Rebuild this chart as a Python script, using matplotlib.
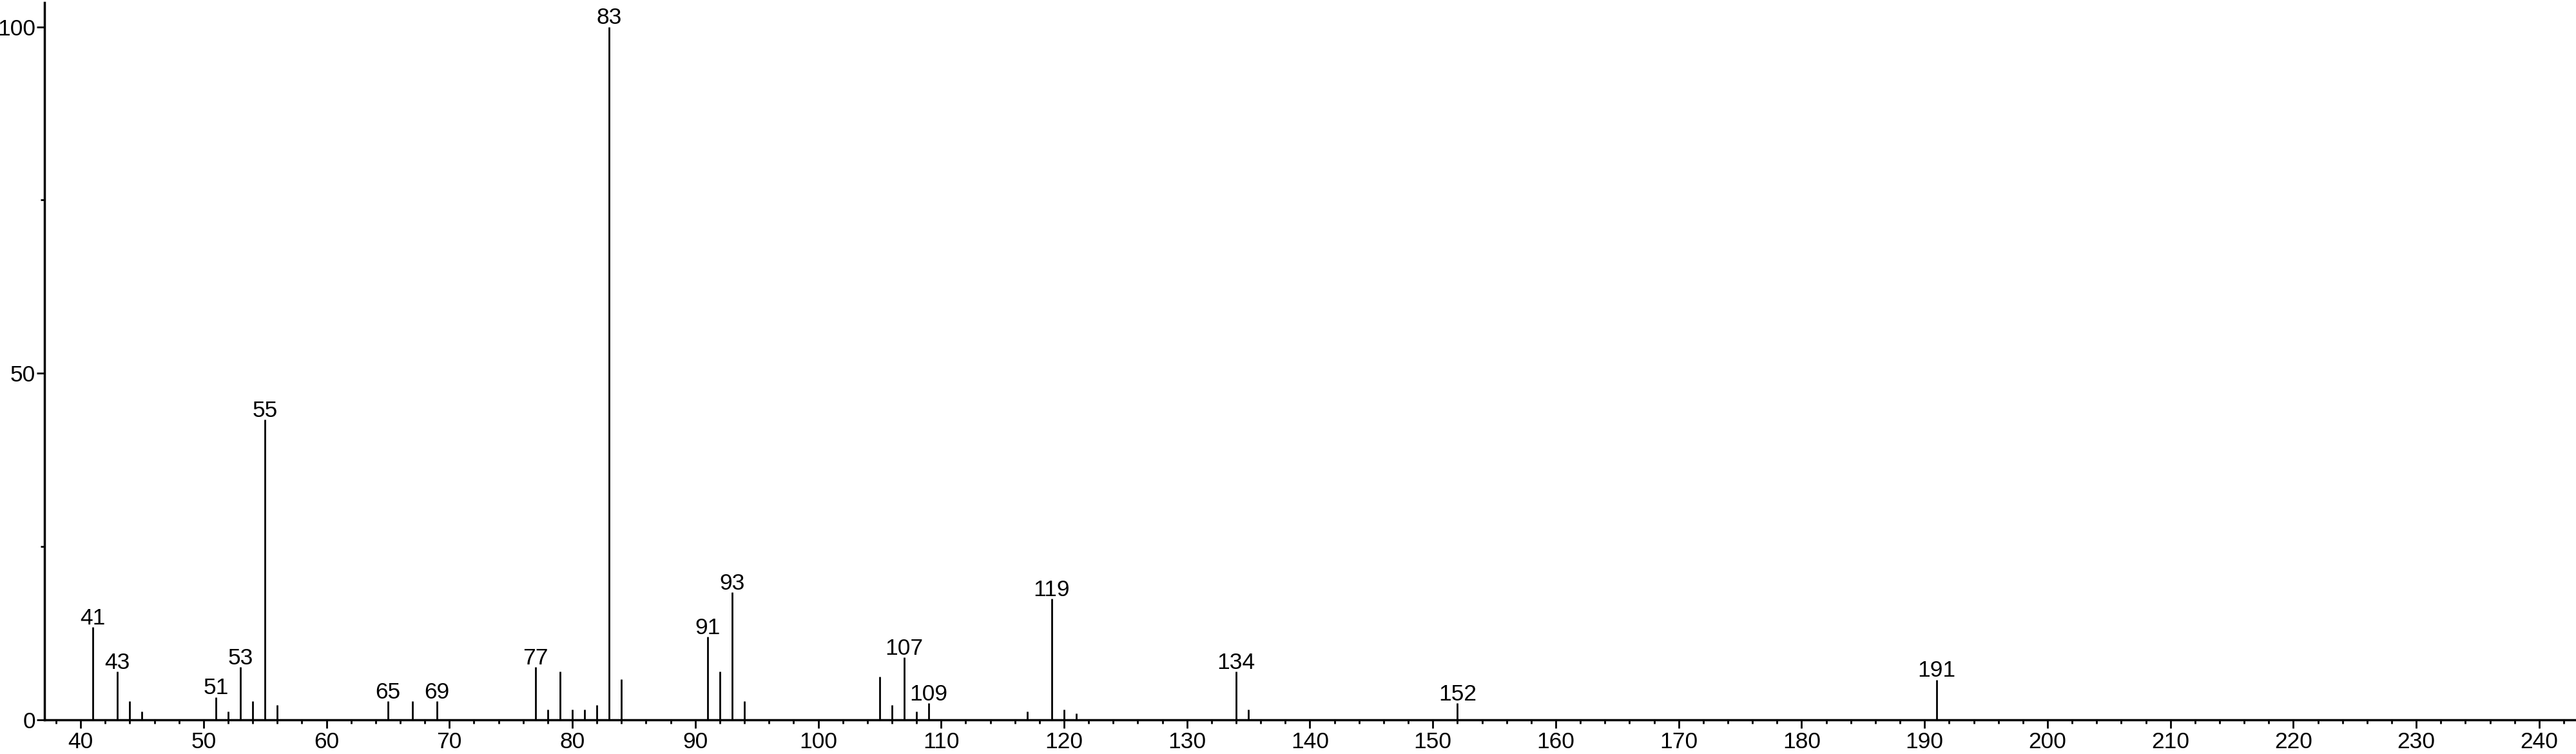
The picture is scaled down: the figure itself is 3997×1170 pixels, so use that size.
import matplotlib
matplotlib.use("Agg")
import matplotlib.pyplot as plt
from matplotlib.ticker import MultipleLocator, FixedLocator

plt.rcParams['font.family'] = ['Liberation Sans', 'DejaVu Sans']

mz = [41, 43, 44, 45, 51, 52, 53, 54, 55, 56, 65, 67, 69, 77, 78, 79, 80, 81, 82,
      83, 84, 91, 92, 93, 94, 105, 106, 107, 108, 109, 117, 119, 120, 121,
      134, 135, 152, 191]
intensity = [13.4, 7.0, 2.7, 1.2, 3.3, 1.2, 7.6, 2.7, 43.3, 2.1, 2.7, 2.7, 2.7,
             7.6, 1.5, 7.0, 1.5, 1.5, 2.1, 100.0, 5.9, 12.0, 7.0, 18.4, 2.7,
             6.2, 2.1, 9.0, 1.2, 2.4, 1.2, 17.5, 1.5, 0.9, 7.0, 1.5, 2.4, 5.8]
labeled = [41, 43, 51, 53, 55, 65, 69, 77, 83, 91, 93, 107, 109, 119, 134, 152, 191]

x_major = list(range(40, 241, 10))
y_major = [0, 50, 100]
y_minor = [25, 75]

fig = plt.figure(figsize=(39.98, 11.70), dpi=100)
ax = fig.add_axes([69 / 3998, (1170 - 1117) / 1170, (3996 - 69) / 3998, (1117 - 4) / 1170])

ax.vlines(mz, 0, intensity, colors='black', linewidth=2.0)

lookup = dict(zip(mz, intensity))
for m in labeled:
    ax.annotate(str(m), xy=(m, lookup[m]), xytext=(0, 3), textcoords='offset points',
                ha='center', va='baseline', fontsize=25.5, color='black')

ax.set_xlim(37.06, 242.94)
ax.set_ylim(0, 103.5)

for s in ['top', 'right']:
    ax.spines[s].set_visible(False)
for s in ['left', 'bottom']:
    ax.spines[s].set_linewidth(2.5)
    ax.spines[s].set_color('black')

ax.xaxis.set_major_locator(FixedLocator(x_major))
ax.xaxis.set_minor_locator(MultipleLocator(2))
ax.yaxis.set_major_locator(FixedLocator(y_major))
ax.yaxis.set_minor_locator(FixedLocator(y_minor))
ax.set_xticklabels([str(v) for v in x_major])
ax.set_yticklabels([str(v) for v in y_major])

ax.tick_params(axis='both', which='major', direction='out', length=9, width=2,
               labelsize=25.5, colors='black')
ax.tick_params(axis='both', which='minor', direction='out', length=4.5, width=2)
ax.tick_params(axis='x', which='major', pad=4)
ax.tick_params(axis='y', which='major', pad=1)

fig.savefig('out.png', dpi=100, facecolor='white')
